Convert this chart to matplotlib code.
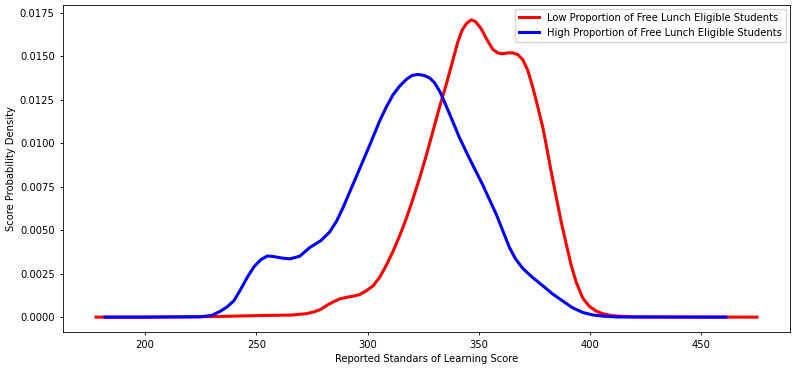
import matplotlib
matplotlib.use("Agg")
import matplotlib.pyplot as plt

# Low proportion of free-lunch-eligible students (red) - KDE curve
low_x = [178, 200, 230, 255, 266, 272.5, 276, 279, 282, 285, 287.5, 291, 294, 296.5,
         299.5, 302.5, 305.5, 308.5, 311.5, 314.5, 317.5, 320.4, 323.4, 326.4, 329.4,
         332.4, 335.4, 338.4, 340.5, 342.5, 344.5, 346.6, 348.5, 351, 353.5, 356.3,
         358.5, 360.5, 363, 365.3, 367.5, 369.8, 372, 374.3, 376.5, 378.8, 380.3, 382.5,
         384.8, 387, 389.3, 391.5, 393.8, 396.7, 399.7, 402.7, 405.7, 410, 420, 475]
low_y = [0.0, 0.0, 0.00003, 0.0001, 0.00012, 0.0002, 0.0003, 0.00045, 0.0007, 0.0009,
         0.00105, 0.00115, 0.00122, 0.0013, 0.00152, 0.0018, 0.0023, 0.0030, 0.0038,
         0.0047, 0.0057, 0.0068, 0.0080, 0.0093, 0.0107, 0.0121, 0.0134, 0.0148, 0.0158,
         0.0165, 0.0169, 0.0171, 0.0170, 0.0166, 0.0160, 0.0154, 0.0152, 0.01515, 0.0152,
         0.0152, 0.0151, 0.0148, 0.0142, 0.0132, 0.0121, 0.0109, 0.0099, 0.0084, 0.0069,
         0.0055, 0.0042, 0.0030, 0.0020, 0.0011, 0.00062, 0.00035, 0.0002, 0.00008,
         0.00001, 0.0]

# High proportion of free-lunch-eligible students (blue)
high_x = [182, 200, 225, 230, 234, 237, 240, 243, 246, 249, 252, 255, 258, 261.5, 265,
          269.5, 274, 279, 283, 286, 289, 292, 295, 298, 301, 305.5, 308.5, 311.5, 314.5,
          317.5, 320, 322.7, 325.5, 327.9, 330, 332.4, 334.5, 336.9, 341.4, 345.9, 351.8,
          357.9, 361, 363.8, 366.5, 369.8, 374, 378.8, 383, 387.8, 392, 396.7, 401, 405.7,
          412, 461]
high_y = [0.0, 0.0, 0.00002, 0.0001, 0.00035, 0.0006, 0.00095, 0.0016, 0.0023, 0.0029,
          0.0033, 0.00352, 0.00348, 0.0034, 0.00335, 0.0035, 0.0040, 0.0044, 0.0049,
          0.0055, 0.0063, 0.0072, 0.0081, 0.0090, 0.0099, 0.0113, 0.0121, 0.0128, 0.0133,
          0.01368, 0.0139, 0.01396, 0.0139, 0.01376, 0.0135, 0.0130, 0.0124, 0.01168,
          0.0103, 0.0091, 0.0076, 0.0059, 0.0049, 0.0040, 0.00335, 0.0028, 0.0023, 0.0018,
          0.00135, 0.00092, 0.00055, 0.00027, 0.00013, 0.00006, 0.00001, 0.0]

labels = ["Low Proportion of Free Lunch Eligible Students",
          "High Proportion of Free Lunch Eligible Students"]

fs = 7.2
plt.rcParams['font.family'] = ['DejaVu Sans']
fig = plt.figure(figsize=(7.95, 3.71), dpi=100)
ax = fig.add_axes([63/795, 39/371, 727/795, 327/371])
ax.plot(low_x, low_y, color='red', lw=2.2, label=labels[0])
ax.plot(high_x, high_y, color='blue', lw=2.2, label=labels[1])
ax.set_xticks([200, 250, 300, 350, 400, 450])
yt = [0.0, 0.0025, 0.005, 0.0075, 0.01, 0.0125, 0.015, 0.0175]
ax.set_yticks(yt)
ax.set_yticklabels([f"{v:.4f}" for v in yt])
ax.tick_params(labelsize=fs, length=2.5, width=0.6)
for s in ax.spines.values():
    s.set_linewidth(0.6)
ax.set_xlabel("Reported Standars of Learning Score", fontsize=fs, labelpad=3)
ax.set_ylabel("Score Probability Density", fontsize=fs, labelpad=3)
ax.legend(loc='upper right', fontsize=fs, handlelength=2.0, borderaxespad=0.4)
fig.savefig("out.png", dpi=100)
